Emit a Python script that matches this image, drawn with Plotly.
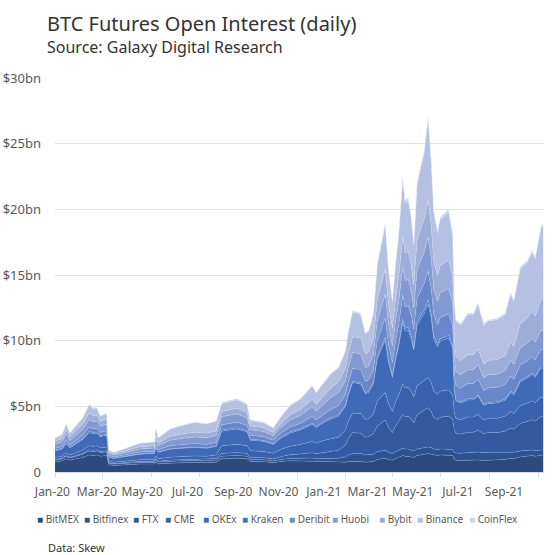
import plotly.graph_objects as go

dates = [
    "2020-01-01", "2020-01-10", "2020-01-15", "2020-01-20", "2020-01-28", "2020-02-05", "2020-02-13", "2020-02-18", "2020-02-23", "2020-02-27", "2020-03-06",
    "2020-03-09", "2020-03-15", "2020-03-29", "2020-04-17", "2020-05-05", "2020-05-07", "2020-05-10", "2020-05-25", "2020-06-10", "2020-06-25", "2020-07-10", "2020-07-22",
    "2020-07-29", "2020-08-17", "2020-08-30", "2020-09-03", "2020-09-20", "2020-10-02", "2020-10-11", "2020-10-23", "2020-11-05", "2020-11-20", "2020-11-25", "2020-12-04", "2020-12-13", "2020-12-23",
    "2021-01-01", "2021-01-04", "2021-01-10", "2021-01-20", "2021-01-26", "2021-01-30", "2021-02-05", "2021-02-10", "2021-02-20", "2021-02-24", "2021-03-01", "2021-03-05", "2021-03-09", "2021-03-14", "2021-03-17", "2021-03-21", "2021-03-25", "2021-03-28",
    "2021-04-01", "2021-04-05", "2021-04-10", "2021-04-15", "2021-04-19", "2021-04-22", "2021-04-27", "2021-04-30", "2021-05-04", "2021-05-11", "2021-05-16",
    "2021-05-18", "2021-05-20", "2021-05-26", "2021-06-04", "2021-06-11", "2021-06-17", "2021-06-24", "2021-06-30", "2021-07-11", "2021-07-21", "2021-07-28", "2021-08-01", "2021-08-09", "2021-08-18", "2021-08-24", "2021-08-28", "2021-09-04", "2021-09-07",
]

# Open interest, $bn
bitmex = [.75, .85, 1.0, .9, 1.0, 1.1, 1.3, 1.25, 1.3, 1.2, 1.25,
          .55, .5, .55, .6, .6, .75, .62, .68, .7, .72, .7, .75,
          1.0, 1.05, 1.0, .8, .78, .7, .8, .85, .85, .85, .8, .8, .78, .75,
          .75, .78, .8, .8, .75, .75, .8, .95, 1.05, .95, .9, 1.0, 1.1, 1.25, 1.2, 1.2, 1.15, 1.1,
          1.25, 1.3, 1.35, 1.4, 1.35, 1.3, 1.25, 1.3, 1.3, 1.3, 1.25,
          .95, .9, .88, .9, .9, .92, .88, .9, .9, .95, 1.05, 1.0, 1.15, 1.2, 1.25, 1.2, 1.3, 1.3]
bitfinex = [.15, .15, .2, .17, .2, .25, .3, .3, .3, .27, .28,
            .12, .1, .12, .13, .13, .17, .14, .15, .15, .15, .15, .16,
            .2, .21, .2, .16, .15, .14, .16, .18, .2, .22, .21, .24, .27, .3,
            .4, .5, .6, .6, .55, .55, .55, .6, .6, .55, .5, .55, .55, .55, .55, .55, .5, .5,
            .5, .5, .5, .5, .5, .45, .45, .45, .45, .45, .45,
            .55, .55, .55, .58, .58, .6, .58, .6, .6, .55, .5, .5, .45, .45, .42, .42, .4, .4]
ftx = [.05, .05, .06, .05, .06, .08, .1, .1, .1, .09, .09,
       .04, .04, .05, .06, .06, .08, .06, .08, .09, .1, .1, .11,
       .2, .22, .2, .16, .16, .15, .2, .28, .33, .4, .38, .45, .52, .6,
       .9, 1.2, 1.6, 1.55, 1.35, 1.4, 1.55, 1.95, 2.3, 1.9, 1.6, 1.95, 2.2, 2.6, 2.45, 2.5, 2.35, 2.15,
       2.6, 2.7, 2.8, 3.0, 2.75, 2.4, 2.3, 2.4, 2.45, 2.5, 2.3,
       1.7, 1.5, 1.45, 1.55, 1.55, 1.65, 1.45, 1.5, 1.5, 1.6, 1.8, 1.75, 2.1, 2.2, 2.3, 2.25, 2.5, 2.5]
cme = [.15, .15, .2, .17, .2, .25, .3, .3, .3, .27, .28,
       .12, .1, .12, .15, .16, .22, .18, .22, .24, .25, .25, .27,
       .6, .63, .6, .5, .48, .43, .55, .65, .72, .85, .8, .9, .95, 1.0,
       1.15, 1.3, 1.5, 1.5, 1.35, 1.35, 1.5, 1.9, 2.1, 1.8, 1.6, 1.85, 2.0, 2.3, 2.2, 2.2, 2.1, 1.95,
       2.2, 2.25, 2.3, 2.3, 2.2, 2.0, 1.9, 2.0, 2.0, 2.0, 1.85,
       1.3, 1.15, 1.1, 1.15, 1.15, 1.2, 1.05, 1.1, 1.1, 1.15, 1.25, 1.2, 1.35, 1.4, 1.45, 1.4, 1.5, 1.5]
okex = [.5, .55, .7, .56, .7, .8, 1.0, .95, .95, .85, .9,
        .32, .28, .33, .42, .45, .62, .5, .6, .62, .64, .6, .65,
        1.1, 1.15, 1.05, .8, .76, .68, .85, 1.0, 1.1, 1.3, 1.2, 1.35, 1.5, 1.6,
        1.8, 2.0, 2.3, 2.25, 1.95, 2.0, 2.3, 3.2, 4.0, 3.2, 2.6, 3.2, 3.7, 4.7, 4.3, 4.35, 4.0, 3.55,
        4.6, 4.85, 5.1, 5.6, 4.9, 4.0, 3.6, 3.8, 3.85, 3.95, 3.55,
        1.7, 1.3, 1.25, 1.3, 1.3, 1.4, 1.1, 1.1, 1.15, 1.2, 1.45, 1.4, 1.8, 1.9, 2.0, 1.95, 2.2, 2.2]
kraken = [.05, .05, .06, .05, .06, .07, .1, .1, .1, .08, .08,
          .03, .03, .03, .03, .03, .04, .03, .04, .05, .05, .05, .05,
          .1, .1, .1, .08, .07, .06, .07, .08, .08, .09, .08, .09, .1, .1,
          .1, .1, .1, .1, .1, .1, .12, .15, .2, .15, .12, .15, .2, .25, .22, .22, .2, .18,
          .25, .25, .28, .3, .27, .22, .2, .2, .2, .2, .18,
          .12, .1, .1, .1, .1, .1, .1, .1, .1, .1, .1, .1, .1, .1, .1, .1, .1, .1]
deribit = [.15, .15, .2, .16, .2, .25, .3, .28, .28, .25, .26,
           .1, .09, .11, .14, .15, .22, .17, .22, .24, .25, .25, .26,
           .4, .42, .4, .3, .28, .25, .3, .38, .42, .52, .48, .55, .62, .7,
           .8, .85, 1.0, 1.0, .85, .85, .95, 1.25, 1.5, 1.2, 1.0, 1.25, 1.45, 1.8, 1.65, 1.65, 1.55, 1.4,
           1.8, 1.9, 2.0, 2.2, 1.95, 1.65, 1.5, 1.6, 1.6, 1.65, 1.5,
           1.25, 1.1, 1.05, 1.15, 1.15, 1.2, 1.05, 1.1, 1.1, 1.1, 1.15, 1.1, 1.2, 1.2, 1.25, 1.2, 1.3, 1.3]
huobi = [.3, .35, .45, .35, .42, .45, .6, .55, .55, .47, .5,
         .16, .14, .17, .22, .24, .4, .28, .42, .48, .5, .5, .52,
         .6, .64, .58, .42, .4, .35, .42, .52, .6, .75, .7, .8, .92, 1.0,
         1.05, 1.1, 1.2, 1.2, 1.05, 1.05, 1.15, 1.5, 1.8, 1.5, 1.25, 1.5, 1.75, 2.15, 2.0, 2.0, 1.85, 1.65,
         2.1, 2.25, 2.35, 2.6, 2.3, 1.95, 1.8, 1.9, 1.9, 1.95, 1.75,
         1.25, 1.05, 1.0, 1.05, 1.05, 1.1, .95, 1.0, 1.0, 1.05, 1.2, 1.15, 1.3, 1.35, 1.4, 1.35, 1.5, 1.5]
bybit = [.25, .25, .35, .27, .35, .4, .5, .45, .45, .38, .4,
         .11, .1, .13, .17, .18, .3, .22, .3, .34, .36, .35, .36,
         .4, .43, .4, .3, .28, .25, .3, .4, .45, .55, .5, .6, .7, .8,
         .95, 1.05, 1.2, 1.2, 1.05, 1.1, 1.2, 1.6, 1.9, 1.6, 1.35, 1.65, 1.9, 2.3, 2.1, 2.1, 1.95, 1.75,
         2.25, 2.4, 2.55, 2.8, 2.45, 2.1, 1.95, 2.05, 2.1, 2.15, 1.95,
         1.3, 1.15, 1.1, 1.15, 1.15, 1.2, 1.05, 1.1, 1.1, 1.15, 1.4, 1.35, 1.8, 1.95, 2.05, 2.0, 2.3, 2.3]
binance = [.2, .3, .43, .27, .36, .45, .6, .52, .47, .39, .41,
           .12, .1, .17, .26, .28, .57, .38, .56, .65, .74, .71, .73,
           .6, .65, .57, .4, .38, .34, .5, .7, .79, .99, .87, .94, 1.06, 1.05,
           1.3, 1.62, 1.9, 1.8, 1.5, 1.55, 1.85, 2.65, 3.35, 2.6, 2.05, 2.65, 3.15, 4.45, 3.8, 3.9, 3.55, 3.0,
           4.2, 4.55, 5.0, 6.2, 4.88, 3.73, 3.27, 3.5, 3.55, 3.65, 3.24,
           2.85, 2.68, 2.7, 3.05, 3.05, 3.41, 2.97, 3.0, 3.04, 3.14, 3.68, 3.43, 4.2, 4.2, 4.5, 4.36, 5.4, 5.6]
coinflex = [.05, .05, .05, .05, .05, .05, .1, .1, .1, .05, .05,
            .03, .02, .02, .02, .02, .03, .02, .03, .04, .04, .04, .04,
            .1, .1, .1, .08, .06, .05, .05, .06, .06, .08, .08, .08, .08, .1,
            .1, .1, .1, .1, .1, .1, .13, .15, .2, .15, .13, .15, .2, .25, .23, .23, .2, .17,
            .25, .25, .27, .3, .25, .2, .18, .2, .2, .2, .18,
            .13, .12, .12, .12, .12, .12, .12, .1, .11, .11, .12, .12, .15, .15, .18, .17, .2, .2]

exchanges = ["BitMEX", "Bitfinex", "FTX", "CME", "OKEx", "Kraken", "Deribit", "Huobi", "Bybit", "Binance", "CoinFlex"]
series = [bitmex, bitfinex, ftx, cme, okex, kraken, deribit, huobi, bybit, binance, coinflex]
colors = ["#2C4A7E", "#2F5392", "#335AA1", "#3862AD", "#3E6AB8", "#4773C3", "#6987CA",
          "#8399D2", "#9CADDA", "#B4C1E2", "#CCD5EC"]

y_ticks = [0, 5, 10, 15, 20, 25, 30]
y_text = ["0", "$5bn", "$10bn", "$15bn", "$20bn", "$25bn", "$30bn"]
month_ticks = ["2020-01-01", "2020-03-01", "2020-05-01", "2020-07-01", "2020-09-01", "2020-11-01",
               "2021-01-01", "2021-03-01", "2021-05-01", "2021-07-01", "2021-09-01"]

# layout geometry (pixels)
W, H = 556, 555
L, R, T, B = 48, 12, 78, 83
PW, PH = W - L - R, H - T - B
DATA_LEFT = 55   # left edge of the data area
LABEL_LEFT = 52  # where the first month label sits


def px(x):
    return (x - L) / PW


def py(y):
    return (H - B - y) / PH


fig = go.Figure()
for name, vals, col in zip(exchanges, series, colors):
    assert len(vals) == len(dates), name
    fig.add_trace(go.Scatter(
        x=dates, y=vals, name=name, mode="lines", stackgroup="one",
        line=dict(width=0.5, color="rgba(255,255,255,0.28)"),
        fillcolor=col, showlegend=False, hoverinfo="x+y+name"))

# carrier for the month labels (labels sit slightly left of the tick marks, as in the source)
fig.add_trace(go.Scatter(x=[month_ticks[0], month_ticks[-1]], y=[0, 0], xaxis="x2", yaxis="y2",
                         mode="markers", marker=dict(opacity=0), showlegend=False, hoverinfo="skip"))

# legend drawn as text entries with colored squares
legend_x = [35, 82, 131, 163, 201, 240, 287, 330, 377, 415, 467]
annotations = []
for name, col, lx in zip(exchanges, colors, legend_x):
    annotations.append(dict(
        text=f"<span style='color:{col}'>■</span> {name}",
        x=px(lx), y=py(519), xref="paper", yref="paper",
        xanchor="left", yanchor="middle", showarrow=False,
        font=dict(family="Noto Sans", size=10, color="#595959")))

annotations.append(dict(text="BTC Futures Open Interest (daily)", x=px(45), y=py(23),
                        xref="paper", yref="paper", xanchor="left", yanchor="middle", showarrow=False,
                        font=dict(family="Noto Sans", size=20, color="#333333")))
annotations.append(dict(text="Source: Galaxy Digital Research", x=px(45), y=py(47),
                        xref="paper", yref="paper", xanchor="left", yanchor="middle", showarrow=False,
                        font=dict(family="Noto Sans", size=16, color="#333333")))
annotations.append(dict(text="Data: Skew", x=px(46), y=py(547),
                        xref="paper", yref="paper", xanchor="left", yanchor="middle", showarrow=False,
                        font=dict(family="Noto Sans", size=11, color="#333333")))

fig.update_layout(
    width=W, height=H,
    margin=dict(l=L, r=R, t=T, b=B, autoexpand=False),
    paper_bgcolor="white", plot_bgcolor="rgba(0,0,0,0)",
    showlegend=False,
    annotations=annotations,
    font=dict(family="Noto Sans", size=12, color="#595959"),
    xaxis=dict(
        type="date", range=["2020-01-01", "2021-09-08"],
        domain=[px(DATA_LEFT), 1], automargin=False,
        tickvals=month_ticks, showticklabels=False,
        showgrid=False, ticks="outside", ticklen=4, tickcolor="#D9D9D9",
        showline=True, linecolor="#D9D9D9", linewidth=1,
    ),
    xaxis2=dict(
        type="date", anchor="y2", side="bottom",
        domain=[px(LABEL_LEFT), 1], automargin=False,
        range=["2019-12-31 12:00", "2021-10-25"],
        tickvals=month_ticks, tickformat="%b-%y", ticks="",
        showgrid=False, showline=False, zeroline=False,
        ticklabeloverflow="allow", ticklabelstandoff=11,
        tickfont=dict(size=12, color="#595959"),
    ),
    yaxis=dict(
        range=[0, 30], tickvals=y_ticks, ticktext=y_text, automargin=False,
        showgrid=True, gridcolor="#E3E3E3", gridwidth=1, zeroline=False,
        ticks="", ticklabelstandoff=13,
        tickfont=dict(size=13, color="#595959"),
    ),
    yaxis2=dict(
        range=[0, 30], anchor="x2", domain=[0, 1], automargin=False,
        showgrid=False, showticklabels=False, showline=False, zeroline=False, ticks="",
    ),
)

fig.write_html("out.html")
